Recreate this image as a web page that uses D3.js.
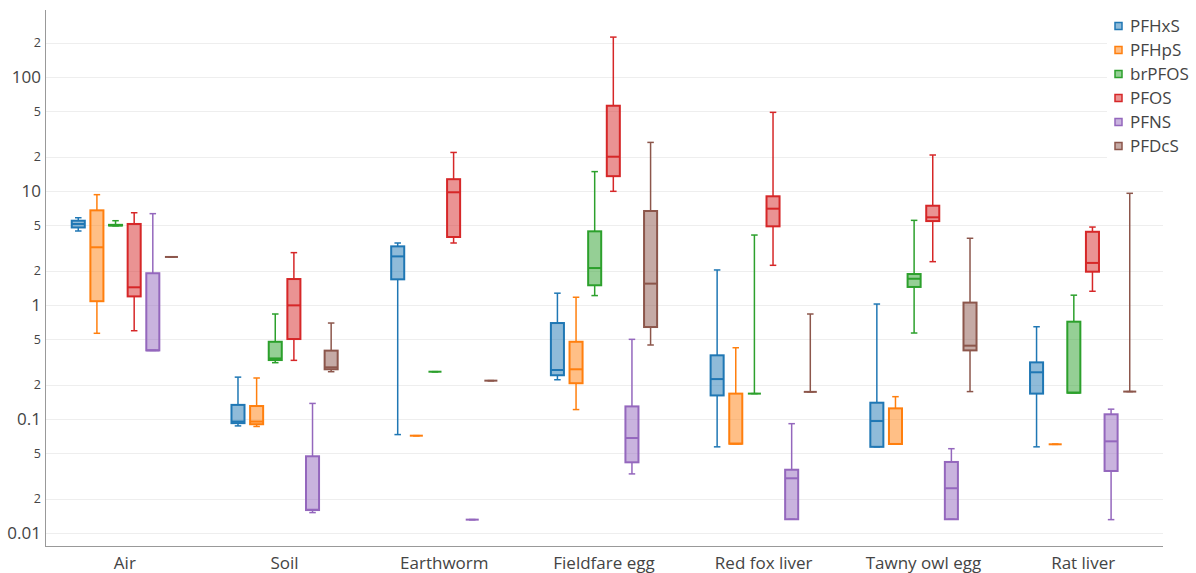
<!DOCTYPE html>
<html>
<head>
<meta charset="utf-8">
<script src="https://cdn.jsdelivr.net/npm/d3@7"></script>
<style>
  body { margin: 0; background: #fff; }
  svg { font-family: "Open Sans", sans-serif; }
</style>
</head>
<body>
<div id="chart"></div>
<script>
// categories along x
const categories = ["Air", "Soil", "Earthworm", "Fieldfare egg", "Red fox liver", "Tawny owl egg", "Rat liver"];
const seriesNames = ["PFHxS", "PFHpS", "brPFOS", "PFOS", "PFNS", "PFDcS"];
const colors = ["#1f77b4", "#ff7f0e", "#2ca02c", "#d62728", "#9467bd", "#8c564b"];

// each entry: [min, q1, median, q3, max], one per category
const PFHxS = [
  [4.46, 4.79, 5.14, 5.49, 5.83],
  [0.087, 0.092, 0.095, 0.133, 0.233],
  [0.073, 1.68, 2.67, 3.27, 3.5],
  [0.221, 0.242, 0.269, 0.695, 1.27],
  [0.057, 0.161, 0.224, 0.362, 2.03],
  [0.057, 0.057, 0.096, 0.139, 1.02],
  [0.057, 0.167, 0.257, 0.314, 0.645]
];
const PFHpS = [
  [0.565, 1.08, 3.21, 6.77, 9.29],
  [0.086, 0.09, 0.095, 0.13, 0.229],
  [0.0714, 0.0714, 0.0714, 0.0714, 0.0714],
  [0.121, 0.206, 0.273, 0.476, 1.17],
  [0.0607, 0.0607, 0.0607, 0.167, 0.422],
  [0.0604, 0.0604, 0.0604, 0.124, 0.157],
  [0.06, 0.06, 0.06, 0.06, 0.06]
];
const brPFOS = [
  [4.95, 4.98, 5.0, 5.05, 5.49],
  [0.312, 0.329, 0.34, 0.476, 0.834],
  [0.26, 0.26, 0.26, 0.26, 0.26],
  [1.21, 1.49, 2.11, 4.43, 14.8],
  [0.167, 0.167, 0.167, 0.167, 4.11],
  [0.568, 1.44, 1.7, 1.87, 5.53],
  [0.17, 0.17, 0.17, 0.714, 1.22]
];
const PFOS = [
  [0.595, 1.19, 1.43, 5.14, 6.45],
  [0.327, 0.503, 0.993, 1.69, 2.88],
  [3.5, 3.95, 9.75, 12.7, 21.8],
  [9.94, 13.5, 20.0, 56, 224],
  [2.23, 4.9, 7.0, 8.99, 49],
  [2.4, 5.45, 5.88, 7.43, 20.7],
  [1.32, 1.96, 2.34, 4.39, 4.83]
];
const PFNS = [
  [0.4, 0.4, 0.4, 1.9, 6.33],
  [0.0151, 0.0159, 0.016, 0.0471, 0.137],
  [0.0131, 0.0131, 0.0131, 0.0131, 0.0131],
  [0.033, 0.0417, 0.0681, 0.129, 0.5],
  [0.0132, 0.0132, 0.0302, 0.0359, 0.091],
  [0.0132, 0.0132, 0.0247, 0.042, 0.0549],
  [0.0131, 0.035, 0.0637, 0.11, 0.122]
];
const PFDcS = [
  [2.64, 2.64, 2.64, 2.64, 2.64],
  [0.26, 0.273, 0.284, 0.398, 0.695],
  [0.217, 0.217, 0.217, 0.217, 0.217],
  [0.446, 0.641, 1.54, 6.68, 26.7],
  [0.173, 0.173, 0.173, 0.173, 0.834],
  [0.174, 0.4, 0.44, 1.05, 3.85],
  [0.174, 0.174, 0.174, 0.174, 9.55]
];
const seriesValues = [PFHxS, PFHpS, brPFOS, PFOS, PFNS, PFDcS];

// y ticks: decades get full labels, 2 and 5 get the short digit
const majorTicks = [0.01, 0.1, 1, 10, 100];
const minorTicks = [0.02, 0.05, 0.2, 0.5, 2, 5, 20, 50, 200];

const width = 1196, height = 573;
const margin = { top: 10, right: 33, bottom: 27, left: 45 };

let svg = d3.select("#chart")
    .append("svg")
    .attr("width", width)
    .attr("height", height);

let x = d3.scaleBand()
    .domain(categories)
    .range([margin.left, width - margin.right])
    .padding(0);

let bw = x.bandwidth();
let xInner = d3.scaleBand()
    .domain(seriesNames)
    .range([-0.35 * bw, 0.35 * bw])
    .padding(0);
let boxW = xInner.bandwidth() * 0.7;

let y = d3.scaleLog()
    .domain([Math.pow(10, -2.114), Math.pow(10, 2.588)])
    .range([height - margin.bottom, margin.top]);

// grid
let grid = svg.append("g");
grid.selectAll("line")
    .data(majorTicks.concat(minorTicks))
    .enter().append("line")
    .attr("x1", margin.left)
    .attr("x2", width - margin.right)
    .attr("y1", d => Math.round(y(d)) + 0.5)
    .attr("y2", d => Math.round(y(d)) + 0.5)
    .attr("stroke", "#eee")
    .attr("stroke-width", 1);

// y labels
let yLabels = svg.append("g").attr("fill", "#444").attr("text-anchor", "end");
yLabels.selectAll("text.major")
    .data(majorTicks)
    .enter().append("text")
    .attr("class", "major")
    .attr("x", margin.left - 4)
    .attr("y", d => y(d))
    .attr("dy", "0.36em")
    .attr("font-size", 17)
    .text(d => d3.format("~g")(d));
yLabels.selectAll("text.minor")
    .data(minorTicks)
    .enter().append("text")
    .attr("class", "minor")
    .attr("x", margin.left - 4)
    .attr("y", d => y(d))
    .attr("dy", "0.36em")
    .attr("font-size", 12.5)
    .text(d => String(d).replace(/[0.]/g, "").charAt(0));

// axis lines
svg.append("line")
    .attr("x1", margin.left + 0.5).attr("x2", margin.left + 0.5)
    .attr("y1", margin.top).attr("y2", height - margin.bottom)
    .attr("stroke", "#999");
svg.append("line")
    .attr("x1", margin.left).attr("x2", width - margin.right)
    .attr("y1", height - margin.bottom + 0.5).attr("y2", height - margin.bottom + 0.5)
    .attr("stroke", "#999");

// x labels
svg.append("g")
    .selectAll("text")
    .data(categories)
    .enter().append("text")
    .attr("x", d => x(d) + bw / 2)
    .attr("y", height - margin.bottom + 23)
    .attr("text-anchor", "middle")
    .attr("fill", "#444")
    .attr("font-size", 17)
    .text(d => d);

// boxes
let boxesGroup = svg.append("g");
seriesNames.forEach(function (name, si) {
    let col = colors[si];
    let g = boxesGroup.append("g").attr("class", "series-" + name);
    let data = seriesValues[si].map((v, ci) => ({ cat: categories[ci], v: v }));
    let items = g.selectAll("g")
        .data(data)
        .enter().append("g")
        .attr("transform", d => "translate(" + (x(d.cat) + bw / 2 + xInner(name) + xInner.bandwidth() / 2) + ",0)");

    // whiskers
    items.append("line")
        .attr("y1", d => y(d.v[0])).attr("y2", d => y(d.v[1]))
        .attr("stroke", col).attr("stroke-width", 1.5);
    items.append("line")
        .attr("y1", d => y(d.v[3])).attr("y2", d => y(d.v[4]))
        .attr("stroke", col).attr("stroke-width", 1.5);
    items.selectAll("line.cap")
        .data(d => [d.v[0], d.v[4]])
        .enter().append("line")
        .attr("class", "cap")
        .attr("x1", -boxW / 4).attr("x2", boxW / 4)
        .attr("y1", d => y(d)).attr("y2", d => y(d))
        .attr("stroke", col).attr("stroke-width", 1.5);

    // box
    items.append("rect")
        .attr("x", -boxW / 2)
        .attr("width", boxW)
        .attr("y", d => y(d.v[3]))
        .attr("height", d => Math.max(0, y(d.v[1]) - y(d.v[3])))
        .attr("fill", col)
        .attr("fill-opacity", 0.5)
        .attr("stroke", col)
        .attr("stroke-width", 2);

    // median
    items.append("line")
        .attr("x1", -boxW / 2).attr("x2", boxW / 2)
        .attr("y1", d => y(d.v[2])).attr("y2", d => y(d.v[2]))
        .attr("stroke", col).attr("stroke-width", 2);
});

// legend
let legend = svg.append("g").attr("transform", "translate(1107,14)");
legend.append("rect")
    .attr("x", 0).attr("y", 0)
    .attr("width", 90).attr("height", 146)
    .attr("fill", "#fff");
let legendItems = legend.selectAll("g")
    .data(seriesNames)
    .enter().append("g")
    .attr("transform", (d, i) => "translate(0," + (12 + i * 24) + ")");
legendItems.append("rect")
    .attr("x", 8).attr("y", -3.5)
    .attr("width", 7).attr("height", 7)
    .attr("fill", (d, i) => colors[i])
    .attr("fill-opacity", 0.5)
    .attr("stroke", (d, i) => colors[i])
    .attr("stroke-width", 1.5);
legendItems.append("text")
    .attr("x", 23)
    .attr("dy", "0.36em")
    .attr("font-size", 17)
    .attr("fill", "#444")
    .text(d => d);
</script>
</body>
</html>
